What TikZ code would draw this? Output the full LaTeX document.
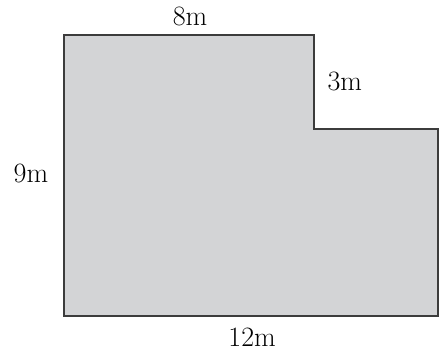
\documentclass[tikz,border=0pt]{standalone}
\usepackage{amsmath}
\usepackage{tikz}

\definecolor{planfill}{RGB}{211,212,214}
\definecolor{planline}{RGB}{60,60,60}

\tikzset{
	lado/.style={anchor=base, inner sep=0pt, font=\fontsize{28}{32}\selectfont}
}

\begin{document}
\begin{tikzpicture}[x=31.2pt, y=31.2pt]
			% Margens da figura
			\useasboundingbox (-2.051,-1.186) rectangle (12.212,10.128);
			% Contorno da planta em L
			\draw[line width=2pt, draw=planline, fill=planfill] (0,0) -- (0,9) -- (8,9) -- (8,6) -- (12,6) -- (12,0) -- cycle;
			% Medidas dos lados
			\node[lado] (topo) at (4.04,9.295) {8m};
			\node[lado] (degrau) at (9.0,7.24) {3m};
			\node[lado] (esquerda) at (-1.06,4.263) {9m};
			\node[lado] (base) at (6.03,-0.962) {12m};
		\end{tikzpicture}
\end{document}
